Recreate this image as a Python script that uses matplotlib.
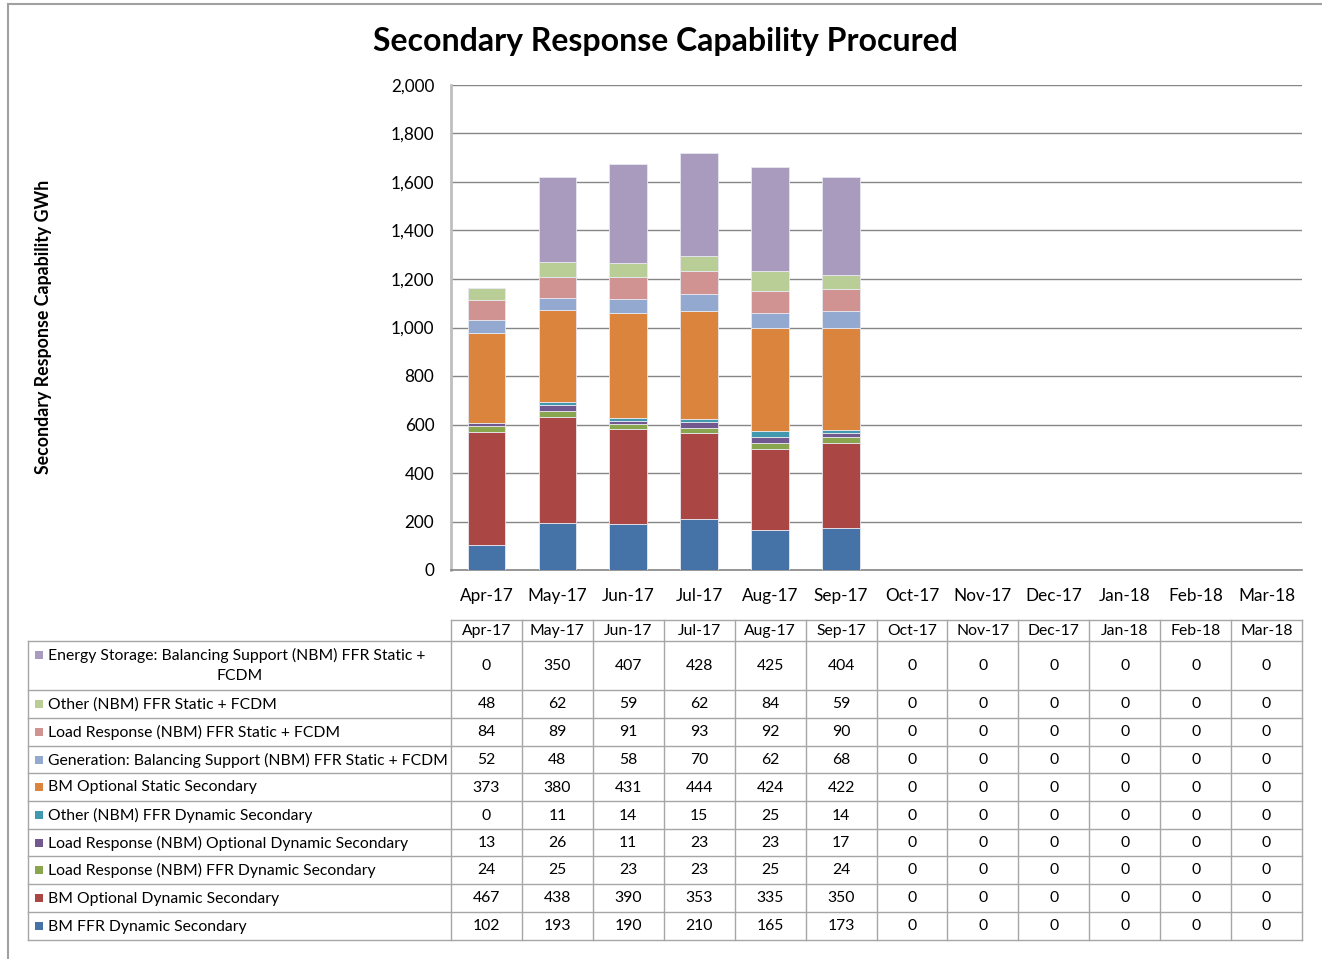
import matplotlib
matplotlib.use("Agg")
import matplotlib.pyplot as plt
import numpy as np

plt.rcParams['font.family'] = ['Lato', 'DejaVu Sans']

months = ["Apr-17", "May-17", "Jun-17", "Jul-17", "Aug-17", "Sep-17",
          "Oct-17", "Nov-17", "Dec-17", "Jan-18", "Feb-18", "Mar-18"]

# Series listed top of stack first (table order)
series_names = [
    "Energy Storage: Balancing Support (NBM) FFR Static +\nFCDM",
    "Other (NBM) FFR Static + FCDM",
    "Load Response (NBM) FFR Static + FCDM",
    "Generation: Balancing Support (NBM) FFR Static + FCDM",
    "BM Optional Static Secondary",
    "Other (NBM) FFR Dynamic Secondary",
    "Load Response (NBM) Optional Dynamic Secondary",
    "Load Response (NBM) FFR Dynamic Secondary",
    "BM Optional Dynamic Secondary",
    "BM FFR Dynamic Secondary",
]

energy_storage = [0, 350, 407, 428, 425, 404, 0, 0, 0, 0, 0, 0]
other_static = [48, 62, 59, 62, 84, 59, 0, 0, 0, 0, 0, 0]
load_resp_static = [84, 89, 91, 93, 92, 90, 0, 0, 0, 0, 0, 0]
generation_static = [52, 48, 58, 70, 62, 68, 0, 0, 0, 0, 0, 0]
bm_optional_static = [373, 380, 431, 444, 424, 422, 0, 0, 0, 0, 0, 0]
other_ffr_dynamic = [0, 11, 14, 15, 25, 14, 0, 0, 0, 0, 0, 0]
load_resp_opt_dynamic = [13, 26, 11, 23, 23, 17, 0, 0, 0, 0, 0, 0]
load_resp_ffr_dynamic = [24, 25, 23, 23, 25, 24, 0, 0, 0, 0, 0, 0]
bm_optional_dynamic = [467, 438, 390, 353, 335, 350, 0, 0, 0, 0, 0, 0]
bm_ffr_dynamic = [102, 193, 190, 210, 165, 173, 0, 0, 0, 0, 0, 0]

series_values = [energy_storage, other_static, load_resp_static, generation_static,
                 bm_optional_static, other_ffr_dynamic, load_resp_opt_dynamic,
                 load_resp_ffr_dynamic, bm_optional_dynamic, bm_ffr_dynamic]

colors = ["#A99BBD", "#B9CD96", "#D19392", "#93A9CF", "#DB843D",
          "#4198AF", "#71588F", "#89A54E", "#AA4643", "#4572A7"]

W, H = 1322, 959
fig = plt.figure(figsize=(W / 100, H / 100), dpi=100)
fig.patch.set_facecolor("white")

# Overlay in pixel coordinates for frame and table
ov = fig.add_axes([0, 0, 1, 1])
ov.set_xlim(0, W)
ov.set_ylim(H, 0)
ov.axis("off")

grid_col = "#868686"
frame_col = "#A0A0A0"

# outer frame
ov.plot([8, W], [3.5, 3.5], color=frame_col, lw=1.5)
ov.plot([8, 8], [3.5, H], color=frame_col, lw=1.5)

# Chart area
px_l, px_r, px_t, px_b = 451, 1302, 85, 570
ax = fig.add_axes([px_l / W, 1 - px_b / H, (px_r - px_l) / W, (px_b - px_t) / H])
x = np.arange(len(months))
bottom = np.zeros(len(months))
for vals, col in zip(series_values[::-1], colors[::-1]):
    v = np.array(vals, dtype=float)
    ax.bar(x, v, width=0.53, bottom=bottom, color=col, edgecolor="#E8E8F0",
           linewidth=0.6, zorder=3)
    bottom += v

ax.set_xlim(-0.5, len(months) - 0.5)
ax.set_ylim(0, 2000)
ax.set_yticks(np.arange(0, 2001, 200))
ax.set_yticklabels([f"{v:,}" for v in range(0, 2001, 200)], fontsize=12.3)
ax.set_xticks(x)
ax.set_xticklabels(months, fontsize=12.3)
ax.tick_params(axis="both", length=0)
ax.tick_params(axis="y", pad=12)
ax.tick_params(axis="x", pad=13)
ax.grid(axis="y", color=grid_col, lw=1.0, zorder=0)
for s in ["top", "right"]:
    ax.spines[s].set_visible(False)
ax.spines["left"].set_color("#BFBFBF")
ax.spines["left"].set_linewidth(2)
ax.spines["bottom"].set_color(grid_col)
ax.spines["bottom"].set_linewidth(1.2)
ax.set_axisbelow(True)

fig.text(665 / W, 1 - 42 / H, "Secondary Response Capability Procured",
         ha="center", va="center", fontsize=23, fontweight="bold")
fig.text(44 / W, 1 - 327 / H, "Secondary Response Capability GWh",
         ha="center", va="center", rotation=90, fontsize=12.8, fontweight="bold")

# Data table
col_w = (px_r - px_l) / len(months)
col_edges = [px_l + i * col_w for i in range(len(months) + 1)]
tbl_left = 28
head_top, head_bot = 620, 641
row_edges = [641, 690, 718, 746, 773, 801, 829, 856, 884, 912, 940]
tcol = "#A6A6A6"
fs = 11.3

# header row
ov.plot([px_l, px_r], [head_top, head_top], color=tcol, lw=1)
for xe in col_edges:
    ov.plot([xe, xe], [head_top, row_edges[-1]], color=tcol, lw=1)
for i, m in enumerate(months):
    ov.text((col_edges[i] + col_edges[i + 1]) / 2, (head_top + head_bot) / 2 + 0.5, m,
            ha="center", va="center", fontsize=fs)
for ye in row_edges:
    ov.plot([tbl_left, px_r], [ye, ye], color=tcol, lw=1)
ov.plot([tbl_left, tbl_left], [row_edges[0], row_edges[-1]], color=tcol, lw=1)

for r, (name, vals, col) in enumerate(zip(series_names, series_values, colors)):
    y0, y1 = row_edges[r], row_edges[r + 1]
    yc = (y0 + y1) / 2
    lines = name.split("\n")
    if len(lines) == 1:
        ov.add_patch(plt.Rectangle((35, yc - 4), 8, 8, color=col, lw=0))
        ov.text(48, yc + 0.5, lines[0], ha="left", va="center", fontsize=fs)
    else:
        ly1 = y0 + 13.5
        ov.add_patch(plt.Rectangle((35, ly1 - 4), 8, 8, color=col, lw=0))
        ov.text(48, ly1 + 0.5, lines[0], ha="left", va="center", fontsize=fs)
        ov.text((tbl_left + px_l) / 2, ly1 + 21, lines[1], ha="center", va="center",
                fontsize=fs)
    for i, v in enumerate(vals):
        ov.text((col_edges[i] + col_edges[i + 1]) / 2, yc + 0.5, f"{v:,}",
                ha="center", va="center", fontsize=fs)

fig.savefig("out.png", dpi=100, facecolor="white")
